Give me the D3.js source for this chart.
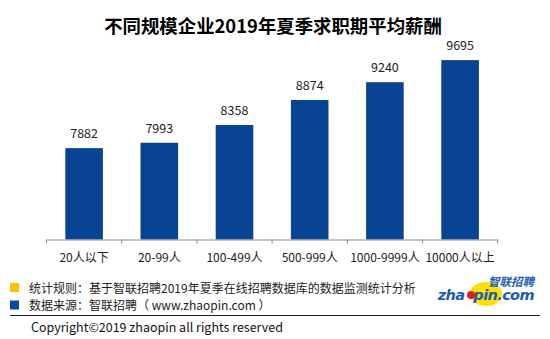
<!DOCTYPE html>
<html>
<head>
<meta charset="utf-8">
<script src="https://cdn.jsdelivr.net/npm/d3@7"></script>
<style>
  html, body { margin: 0; padding: 0; background: #fff; }
  svg { display: block; font-family: "Noto Sans CJK SC", "Microsoft YaHei", sans-serif; }
</style>
</head>
<body>
<svg id="chart" width="550" height="339"></svg>
<script>
// Average salary by company size, summer 2019
const categories = ["20人以下", "20-99人", "100-499人", "500-999人", "1000-9999人", "10000人以上"];
const salaries = [7882, 7993, 8358, 8874, 9240, 9695];
const yDomain = [6000, 10000];

const titleText = "不同规模企业2019年夏季求职期平均薪酬";
const noteLines = [
  "统计规则：基于智联招聘2019年夏季在线招聘数据库的数据监测统计分析",
  "数据来源：智联招聘（ www.zhaopin.com ）"
];
const noteColors = ["#FFC000", "#0A4A9F"];
const copyrightText = "Copyright©2019 zhaopin all rights reserved";

const svg = d3.select("#chart");
const barColor = "#084493";

const x = d3.scaleBand()
  .domain(categories)
  .range([46.5, 497.7])
  .paddingInner(0.5)
  .paddingOuter(0.25);

const y = d3.scaleLinear()
  .domain(yDomain)
  .range([239.5, 45.3]);

// Title
svg.append("text")
  .attr("x", 273)
  .attr("y", 33)
  .attr("text-anchor", "middle")
  .attr("font-size", 18.4)
  .attr("font-weight", "bold")
  .attr("fill", "#000")
  .text(titleText);

// Bars
svg.append("g").selectAll("rect")
  .data(salaries)
  .join("rect")
  .attr("x", (d, i) => x(categories[i]))
  .attr("y", d => y(d))
  .attr("width", x.bandwidth())
  .attr("height", d => y(yDomain[0]) - y(d))
  .attr("fill", barColor);

// Value labels
svg.append("g").selectAll("text")
  .data(salaries)
  .join("text")
  .attr("x", (d, i) => x(categories[i]) + x.bandwidth() / 2)
  .attr("y", d => y(d) - 10)
  .attr("text-anchor", "middle")
  .attr("font-size", 12.5)
  .attr("fill", "#222")
  .text(d => d);

// Category axis
const axisG = svg.append("g")
  .attr("transform", `translate(0,${y(yDomain[0])})`)
  .call(d3.axisBottom(x).tickSize(0).tickPadding(14));
axisG.select(".domain").attr("stroke", "#8c8c8c").attr("stroke-width", 1);
axisG.selectAll(".tick text")
  .attr("font-size", 12)
  .attr("fill", "#222")
  .attr("font-family", "\"Noto Sans CJK SC\", sans-serif");

// Boundary ticks between categories
const step = x.step();
const edges = d3.range(categories.length + 1).map(i => x.range()[0] + i * step);
axisG.selectAll(".edge")
  .data(edges)
  .join("line")
  .attr("class", "edge")
  .attr("x1", d => d).attr("x2", d => d)
  .attr("y1", 0).attr("y2", 4)
  .attr("stroke", "#8c8c8c");

// Footnotes
const notes = svg.append("g");
noteLines.forEach((t, i) => {
  const cy = 288 + i * 17.5;
  notes.append("rect")
    .attr("x", 10).attr("y", cy - 5)
    .attr("width", 9).attr("height", 9)
    .attr("fill", noteColors[i]);
  notes.append("text")
    .attr("x", 29).attr("y", cy + 4.5)
    .attr("font-size", 12)
    .attr("fill", "#222")
    .text(t);
});

// Divider
svg.append("line")
  .attr("x1", 10).attr("x2", 540)
  .attr("y1", 315.5).attr("y2", 315.5)
  .attr("stroke", "#222").attr("stroke-width", 1.2);

svg.append("text")
  .attr("x", 31).attr("y", 332)
  .attr("font-size", 12.5)
  .attr("fill", "#111")
  .text(copyrightText);

// Logo
const logo = svg.append("g");
logo.append("ellipse")
  .attr("cx", 486).attr("cy", 294)
  .attr("rx", 16).attr("ry", 12)
  .attr("fill", "#FFE000");
logo.append("text")
  .attr("x", 534).attr("y", 285.5)
  .attr("text-anchor", "end")
  .attr("font-size", 11.5)
  .attr("font-weight", "bold")
  .attr("font-style", "italic")
  .attr("fill", "#1A5CB8")
  .text("智联招聘");
logo.append("text")
  .attr("x", 534).attr("y", 300)
  .attr("text-anchor", "end")
  .attr("font-size", 14.5)
  .attr("font-weight", "bold")
  .attr("font-style", "italic")
  .attr("font-family", "\"DejaVu Sans\", sans-serif")
  .attr("letter-spacing", -0.6)
  .attr("fill", "#1A5CB8")
  .text("zha\u00a0\u00a0pin.com");
logo.append("circle")
  .attr("cx", 471).attr("cy", 295)
  .attr("r", 4)
  .attr("fill", "#D81E1E");
</script>
</body>
</html>
